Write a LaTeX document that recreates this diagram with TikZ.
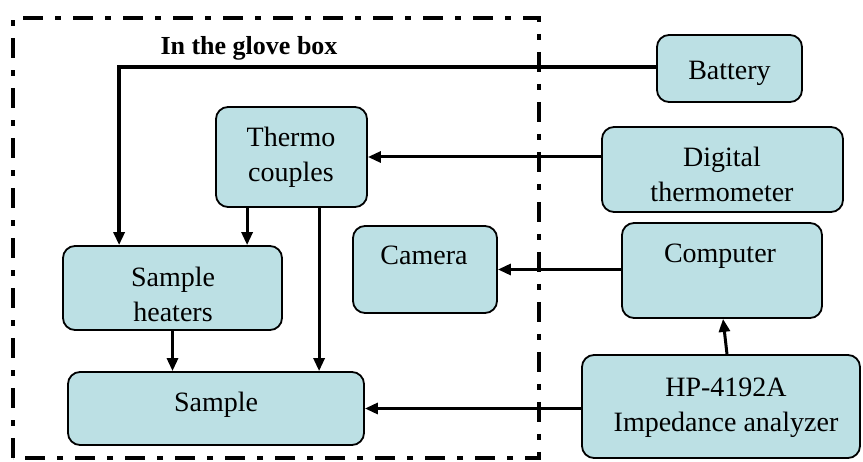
\documentclass[tikz,border=0pt]{standalone}
\usepackage{fontspec}
\setmainfont{Liberation Serif}
\usetikzlibrary{arrows.meta,calc}
\definecolor{boxfill}{RGB}{188,224,228}
\tikzset{
  blk/.style={draw=black,line width=1.8pt,fill=boxfill,rounded corners=12pt,inner sep=0pt},
  lbl/.style={anchor=base,inner sep=0pt,font=\fontsize{28}{35}\selectfont},
  conn/.style={line width=3pt,-{Triangle[length=13pt,width=11pt]}},
  glove/.style={line width=4pt,dash pattern=on 20pt off 12pt on 6pt off 12pt}
}
\begin{document}
\begin{tikzpicture}[x=1pt,y=-1pt]
\useasboundingbox (0,0) rectangle (863,462);
% glove box frame
\draw[glove] (13,458) -- (13,18) -- (539,18) -- (539,458) -- cycle;
\node[anchor=base,inner sep=0pt,font=\bfseries\fontsize{26}{30}\selectfont] (title) at (249,55) {In the glove box};
% boxes
\node[blk,minimum width=145pt,minimum height=67pt] (bat) at (729.5,68.5) {};
\node[blk,minimum width=241pt,minimum height=85pt] (dig) at (722.5,169.5) {};
\node[blk,minimum width=151pt,minimum height=100pt] (thc) at (291.5,157) {};
\node[blk,minimum width=144pt,minimum height=87pt] (cam) at (425,269.5) {};
\node[blk,minimum width=200pt,minimum height=95pt] (comp) at (722,270.5) {};
\node[blk,minimum width=219pt,minimum height=84pt] (heat) at (172.5,288) {};
\node[blk,minimum width=296pt,minimum height=73pt] (samp) at (216,408.5) {};
\node[blk,minimum width=278pt,minimum height=103pt] (hp) at (721,406.5) {};
% texts
\node[lbl] (tbat) at (729.5,80) {Battery};
\node[lbl] (tdig1) at (722,167) {Digital};
\node[lbl] (tdig2) at (722,202) {thermometer};
\node[lbl] (tthc1) at (291,147) {Thermo};
\node[lbl] (tthc2) at (291,182) {couples};
\node[lbl] (tcam) at (424,265) {Camera};
\node[lbl] (tcomp) at (720,263) {Computer};
\node[lbl] (theat1) at (173,287) {Sample};
\node[lbl] (theat2) at (173,322) {heaters};
\node[lbl] (tsamp) at (216,412) {Sample};
\node[lbl] (thp1) at (726,397) {HP-4192A};
\node[lbl] (thp2) at (726,432) {Impedance analyzer};
% connectors
\coordinate (bturn) at ($(heat.north west)+(57,0)$);
\draw[conn,line width=3.6pt] ([yshift=1.5pt]bat.west) -| (bturn);
\draw[conn] (dig.west |- thc.east) -- (thc.east);
\draw[conn] (comp.west |- cam.east) -- (cam.east);
\draw[conn] (hp.west |- samp.east) -- (samp.east);
\draw[conn] ([xshift=6pt]hp.north) -- ([xshift=1pt]comp.south);
\coordinate (t1) at ($(thc.south west)+(32,0)$);
\draw[conn] (t1) -- (t1 |- heat.north);
\coordinate (t2) at ($(thc.south west)+(104,0)$);
\draw[conn] (t2) -- (t2 |- samp.north);
\draw[conn] (heat.south) -- (heat.south |- samp.north);
\end{tikzpicture}
\end{document}
